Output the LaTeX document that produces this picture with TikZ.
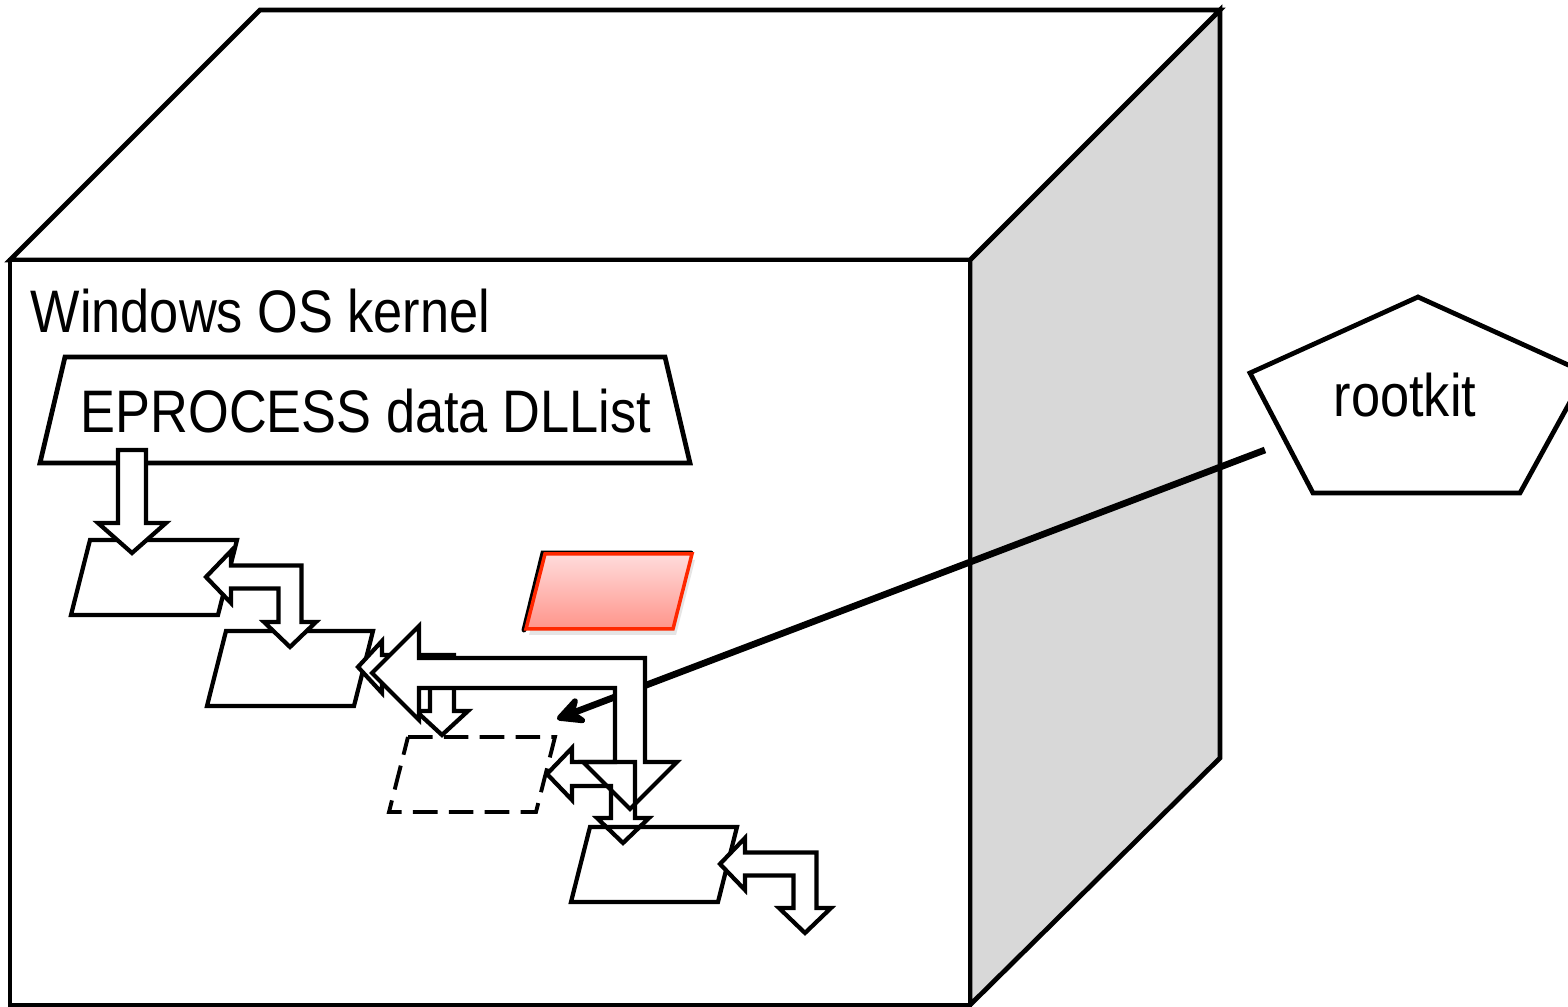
\documentclass[tikz,border=0pt]{standalone}
\usepackage{fontspec}
\setmainfont{Liberation Sans}[FakeStretch=0.872]
\usetikzlibrary{arrows.meta}
\usetikzlibrary{calc}

% one list entry, #2 is its top left corner
\newcommand{\entry}[2][]{%
  \draw[entrybox,#1] (#2) -- ++(147,0) -- ++(-19,75) -- ++(-147,0) -- cycle;}

% bent block arrow with two heads: #2 shaft half width, #3 head half width,
% #4 head length, #5 tip pointing left, #6 tip pointing down
\newcommand{\dlink}[6][]{%
  \draw[blockarrow,#1] (#5) -- ++(#4,-#3) -- ++(0,#3-#2)
    -| ($(#6)+(#2,-#4)$) -- ++(#3-#2,0) -- (#6) -- ++(-#3,-#4) -- ++(#3-#2,0)
    |- ($(#5)+(#4,#2)$) -- ++(0,#3-#2) -- cycle;}

\begin{document}
\begin{tikzpicture}[x=0.01cm, y=-0.01cm,
    edge/.style={line width=1.35pt, line join=miter},
    entrybox/.style={line width=1.2pt, fill=white, line join=miter},
    blockarrow/.style={line width=1.2pt, fill=white, line join=miter},
    bigtext/.style={font=\fontsize{17.07pt}{20pt}\selectfont, inner sep=0pt},
    rkline/.style={line width=1.9pt, -{Stealth[length=10pt, width=10pt, inset=3.5pt, round]}}]
    \useasboundingbox (0,0) rectangle (1568,1007);
    \clip (0,0) rectangle (1568,1007);

    % the box
    \draw[edge, fill={rgb,255:red,216;green,216;blue,216}] (970,260) -- (1220,10) -- (1220,758) -- (970,1005) -- cycle;
    \draw[edge, fill=white] (10,260) -- (260,10) -- (1220,10) -- (970,260) -- cycle;
    \draw[edge, fill=white] (10,260) rectangle (970,1005);
    \node[bigtext, anchor=base west] (kernel) at (30,333) {Windows OS kernel};

    % list head
    \draw[edge] (65,357) -- (665,357) -- (690,463) -- (40,463) -- cycle;
    \node[bigtext, anchor=base west] (eplist) at (80,433) {EPROCESS data DLList};

    % entries
    \coordinate (p1) at (90,540);
    \coordinate (p2) at (226,631);
    \coordinate (p3) at (408,737);
    \coordinate (p4) at (590,827);
    \coordinate (red) at (545,554);
    \entry{p1}
    \entry{p2}
    \entry[dash pattern=on 7pt off 3.2pt, line width=1.1pt]{p3}
    \entry{p4}

    \entry[draw=none, fill=black!10]{$(red)+(3,6)$}
    \draw[line width=1.4pt, line cap=round] ($(red)+(-21,76)$) -- ($(red)+(-2,-1)$) -- ($(red)+(146,-1)$);
    \entry[draw={rgb,255:red,255;green,40;blue,0}, line width=1pt,
        top color={rgb,255:red,255;green,220;blue,220},
        bottom color={rgb,255:red,255;green,148;blue,138}]{red}

    % pointer from the list head into the first entry
    \coordinate (eptip) at (132,553);
    \draw[blockarrow] (eptip) -- ++(-34,-30) -- ++(20,0) -- ++(0,-73) -- ++(28,0) -- ++(0,73) -- ++(20,0) -- cycle;

    % links between entries
    \coordinate (l1) at (206,577);
    \coordinate (d1) at (290,647);
    \coordinate (l2) at (358,667);
    \coordinate (d2) at (442,735);
    \coordinate (l3) at (547,774);
    \coordinate (d3) at (623,843);
    \coordinate (l4) at (720,864);
    \coordinate (d4) at (805,933);
    \dlink{11.5}{26}{25}{l1}{d1}
    \dlink{12}{26}{24}{l2}{d2}
    \dlink{11.5}{26}{25}{l4}{d4}

    % rootkit
    \draw[edge] (1418,297) -- (1586,373) -- (1520,493) -- (1313,493) -- (1250,373) -- cycle;
    \node[bigtext, anchor=base] (rootkit) at (1405,417) {rootkit};
    \coordinate (rk) at (1265,450);
    \coordinate (hook) at (557,719);
    \draw[rkline] (rk) -- (hook);

    % new link skipping the hidden entry
    \coordinate (bigl) at (372,673);
    \coordinate (bigd) at (630,809);
    \dlink{15}{47}{47}{bigl}{bigd}
    \dlink[fill=none]{12}{26}{25}{l3}{d3}
\end{tikzpicture}
\end{document}
